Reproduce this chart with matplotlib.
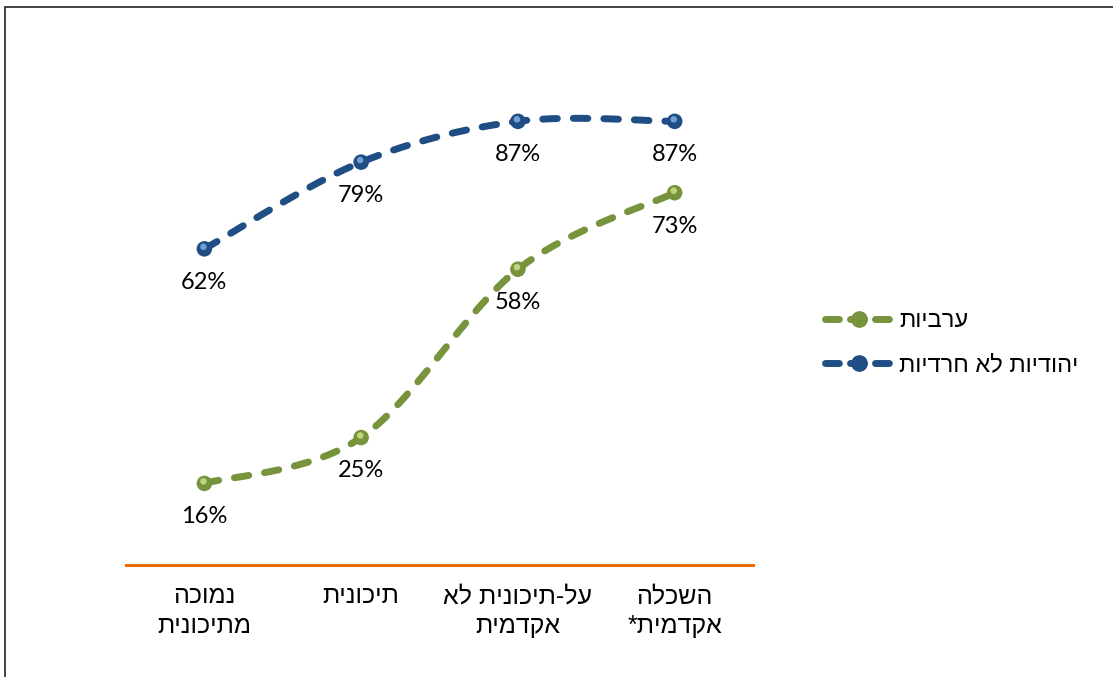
import matplotlib
matplotlib.use("Agg")
import matplotlib.pyplot as plt
import numpy as np
from matplotlib.lines import Line2D
from matplotlib.patches import Rectangle

# data
categories = ["נמוכה\nמתיכונית", "תיכונית", "על-תיכונית לא\nאקדמית", "השכלה\nאקדמית*"]
series_names = ["ערביות", "יהודיות לא חרדיות"]
arab = [16, 25, 58, 73]
jewish = [62, 79, 87, 87]

green = "#77933C"
blue = "#1F4E85"
orange = "#E46C0A"


def rtl(s):
    # matplotlib has no bidi support: flip each line for display
    return "\n".join(line[::-1] for line in s.split("\n"))


def smooth(xs, ys, n=40):
    # Catmull-Rom curve through the points (like Excel's smoothed line)
    xs = np.asarray(xs, float)
    ys = np.asarray(ys, float)
    px = np.concatenate([[xs[0]], xs, [xs[-1]]])
    py = np.concatenate([[ys[0]], ys, [ys[-1]]])
    outx, outy = [], []
    t = np.linspace(0, 1, n)
    for i in range(1, len(px) - 2):
        for p, out in ((px, outx), (py, outy)):
            p0, p1, p2, p3 = p[i - 1], p[i], p[i + 1], p[i + 2]
            c1 = p1 + (p2 - p0) / 6
            c2 = p2 - (p3 - p1) / 6
            out.extend((1 - t) ** 3 * p1 + 3 * (1 - t) ** 2 * t * c1
                       + 3 * (1 - t) * t ** 2 * c2 + t ** 3 * p2)
    return np.array(outx), np.array(outy)


num_font = ["Lato", "DejaVu Sans"]
heb_font = ["Liberation Sans", "DejaVu Sans"]

fig = plt.figure(figsize=(11.13, 6.77), dpi=100)
ax = fig.add_axes([0.1132, 0.1654, 0.5634, 0.7533])

x = np.arange(len(categories))

def draw_series(vals, color, light):
    sx, sy = smooth(x, vals)
    ax.plot(sx, sy, color=color, lw=5, dashes=(2.1, 2.3),
            dash_capstyle="round", zorder=2)
    ax.scatter(x, vals, s=125, color=color, edgecolor="none", zorder=3)
    ax.scatter(x - 0.006, np.array(vals) + 0.4, s=22, color=light,
               edgecolor="none", zorder=4, alpha=0.9)
    for xi, v in zip(x, vals):
        ax.annotate(f"{v}%", (xi, v), xytext=(0, -24), textcoords="offset points",
                    ha="center", va="center", fontsize=17, family=num_font,
                    color="black")

draw_series(arab, green, "#C8DC84")
draw_series(jewish, blue, "#7FA8DA")

ax.set_xlim(-0.5, len(categories) - 0.5)
ax.set_ylim(0, 100)
ax.set_yticks([])
ax.set_xticks(x)
ax.set_xticklabels([rtl(c) for c in categories], fontsize=18, family=heb_font,
                   linespacing=1.3, va="top")
ax.tick_params(axis="x", length=0, pad=14)
for side in ["top", "left", "right"]:
    ax.spines[side].set_visible(False)
ax.spines["bottom"].set_color(orange)
ax.spines["bottom"].set_linewidth(2.2)
ax.patch.set_alpha(0)

handles = [
    Line2D([], [], color=c, lw=5, dashes=(2.0, 1.6), dash_capstyle="round",
           marker="o", markersize=11, markerfacecolor=c, markeredgecolor=c)
    for c in (green, blue)
]
fig.legend(handles, [rtl(s) for s in series_names], loc="center left",
           bbox_to_anchor=(0.722, 0.493), frameon=False, handlelength=2.9,
           handletextpad=0.25, labelspacing=0.95, prop={"family": heb_font, "size": 17})

# outer frame of the chart area
fig.patches.append(Rectangle((5 / 1113, -0.1), 1.2, 1 - 7 / 677 + 0.1,
                             transform=fig.transFigure, fill=False,
                             edgecolor="#222222", lw=1.2))

fig.savefig("out.png", dpi=100)
